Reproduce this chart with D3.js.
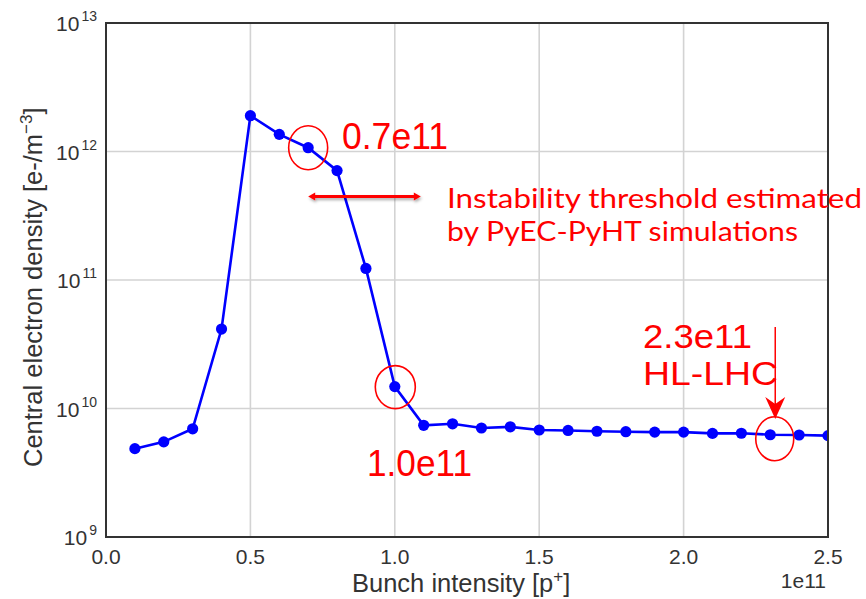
<!DOCTYPE html>
<html>
<head>
<meta charset="utf-8">
<script src="https://cdn.jsdelivr.net/npm/d3@7"></script>
<style>
html,body{margin:0;padding:0;background:#fff;}
svg{display:block;}
</style>
</head>
<body>
<svg id="chart" width="866" height="599"></svg>
<script>
// ---- data (bunch intensity in units of 1e11 p+) ----
const intensity = [0.1,0.2,0.3,0.4,0.5,0.6,0.7,0.8,0.9,1.0,1.1,1.2,1.3,1.4,1.5,1.6,1.7,1.8,1.9,2.0,2.1,2.2,2.3,2.4,2.5];
const density = [4.87e9,5.5e9,6.95e9,4.15e10,1.9e12,1.36e12,1.07e12,7.1e11,1.23e11,1.48e10,7.4e9,7.6e9,7.05e9,7.2e9,6.8e9,6.75e9,6.65e9,6.6e9,6.55e9,6.55e9,6.4e9,6.42e9,6.25e9,6.22e9,6.15e9];
const xTicks = [0.0,0.5,1.0,1.5,2.0,2.5];
const xTickLabels = ["0.0","0.5","1.0","1.5","2.0","2.5"];
const yTicks = [1e9,1e10,1e11,1e12,1e13];
const yTickExp = ["9","10","11","12","13"];
const circled = [0.7,1.0,2.3];
const circleLabels = ["0.7e11","1.0e11"];
const thresholdRange = [0.7,1.09];
const hlText = ["2.3e11","HL-LHC"];
const thresholdText = ["Instability threshold estimated","by PyEC-PyHT simulations"];

const svg = d3.select("#chart");
const L=106, R=828, T=23, B=537;
const x = d3.scaleLinear().domain([0,2.5]).range([L,R]);
const y = d3.scaleLog().domain([1e9,1e13]).range([B,T]);
const pts = intensity.map((v,i)=>({x:v,y:density[i]}));

// gridlines
svg.append("g").selectAll("line").data(xTicks.slice(1,-1)).join("line")
  .attr("x1",d=>x(d)).attr("x2",d=>x(d)).attr("y1",T).attr("y2",B)
  .attr("stroke","#d3d3d3").attr("stroke-width",1.6);
svg.append("g").selectAll("line").data(yTicks.slice(1,-1)).join("line")
  .attr("x1",L).attr("x2",R).attr("y1",d=>y(d)).attr("y2",d=>y(d))
  .attr("stroke","#d3d3d3").attr("stroke-width",1.6);

// clip
svg.append("clipPath").attr("id","clip").append("rect")
  .attr("x",L).attr("y",T).attr("width",R-L).attr("height",B-T);

const plot = svg.append("g").attr("clip-path","url(#clip)");
plot.append("path").datum(pts)
  .attr("d", d3.line().x(d=>x(d.x)).y(d=>y(d.y)))
  .attr("fill","none").attr("stroke","#0000ff").attr("stroke-width",2.6);
plot.selectAll("circle").data(pts).join("circle")
  .attr("cx",d=>x(d.x)).attr("cy",d=>y(d.y)).attr("r",5.6).attr("fill","#0000ff");

// frame
svg.append("rect").attr("x",L).attr("y",T).attr("width",R-L).attr("height",B-T)
  .attr("fill","none").attr("stroke","#333").attr("stroke-width",2);

// axis labels
const font = "'Liberation Sans', Arial, Helvetica, sans-serif";
svg.append("g").selectAll("text").data(xTicks).join("text")
  .attr("x",d=>x(d)).attr("y",564).attr("text-anchor","middle")
  .attr("font-family",font).attr("font-size",21).attr("fill","#333")
  .text((d,i)=>xTickLabels[i]);
const yt = svg.append("g").selectAll("text").data(yTicks).join("text")
  .attr("x",97).attr("y",d=>y(d)+8).attr("text-anchor","end")
  .attr("font-family",font).attr("font-size",21).attr("fill","#333");
yt.append("tspan").text("10");
yt.append("tspan").attr("dy",-10).attr("dx",2).attr("font-size",14).text((d,i)=>yTickExp[i]);

svg.append("text").attr("x",826).attr("y",588).attr("text-anchor","end")
  .attr("font-family",font).attr("font-size",21).attr("fill","#333").text("1e11");

const xl = svg.append("text").attr("x",352).attr("y",592)
  .attr("font-family",font).attr("font-size",25.5).attr("fill","#333");
xl.append("tspan").text("Bunch intensity [p");
xl.append("tspan").attr("dy",-10).attr("font-size",17).text("+");
xl.append("tspan").attr("dy",10).text("]");

const yl = svg.append("text").attr("transform","translate(42,467) rotate(-90)")
  .attr("font-family",font).attr("font-size",25.5).attr("fill","#333");
yl.append("tspan").text("Central electron density [e-/m");
yl.append("tspan").attr("dy",-10).attr("font-size",17).text("\u22123");
yl.append("tspan").attr("dy",10).text("]");

// annotations
const red = "#ff0000";
const offs = {0.7:[0,0,19.5,22],1.0:[0.5,0.5,20,21.5],2.3:[4.5,4,19,22]};
circled.forEach(c=>{
  const i = intensity.indexOf(c);
  const o = offs[c];
  svg.append("ellipse").attr("cx",x(c)+o[0]).attr("cy",y(density[i])+o[1])
    .attr("rx",o[2]).attr("ry",o[3]).attr("fill","none").attr("stroke",red).attr("stroke-width",1.6);
});

svg.append("text").attr("x",342).attr("y",149).attr("font-family",font).attr("font-size",37)
  .attr("fill",red).attr("textLength",106).attr("lengthAdjust","spacingAndGlyphs").text(circleLabels[0]);
svg.append("text").attr("x",367).attr("y",476).attr("font-family",font).attr("font-size",36)
  .attr("fill",red).attr("textLength",105).attr("lengthAdjust","spacingAndGlyphs").text(circleLabels[1]);

svg.append("text").attr("x",643).attr("y",348).attr("font-family",font).attr("font-size",33)
  .attr("fill",red).attr("textLength",109).attr("lengthAdjust","spacingAndGlyphs").text(hlText[0]);
svg.append("text").attr("x",643).attr("y",385).attr("font-family",font).attr("font-size",34)
  .attr("fill",red).attr("textLength",135).attr("lengthAdjust","spacingAndGlyphs").text(hlText[1]);

// HL-LHC arrow
const ax = x(2.3)+5;
svg.append("line").attr("x1",ax).attr("x2",ax).attr("y1",327).attr("y2",405)
  .attr("stroke",red).attr("stroke-width",1.5);
svg.append("path").attr("d",`M${ax-10},397 L${ax},419 L${ax+10},397 L${ax},404 Z`).attr("fill",red);

// threshold double arrow with shadow
const defs = svg.append("defs");
const f = defs.append("filter").attr("id","sh").attr("x","-20%").attr("y","-200%").attr("width","140%").attr("height","500%");
f.append("feDropShadow").attr("dx",1).attr("dy",2).attr("stdDeviation",1.5).attr("flood-color","#000").attr("flood-opacity",0.35);
const ay = 196.5, x1 = x(thresholdRange[0]), x2 = x(thresholdRange[1]);
const ga = svg.append("g").attr("filter","url(#sh)");
ga.append("line").attr("x1",x1+3).attr("x2",x2-3).attr("y1",ay).attr("y2",ay)
  .attr("stroke",red).attr("stroke-width",3);
ga.append("path").attr("d",`M${x1},${ay} L${x1+7},${ay-4} L${x1+7},${ay+4} Z`).attr("fill",red);
ga.append("path").attr("d",`M${x2},${ay} L${x2-7},${ay-4} L${x2-7},${ay+4} Z`).attr("fill",red);

const tfont = "Lato, 'Open Sans', sans-serif";
svg.append("text").attr("x",447).attr("y",208).attr("font-family",tfont).attr("font-size",27)
  .attr("fill",red).attr("textLength",415).attr("lengthAdjust","spacingAndGlyphs").text(thresholdText[0]);
svg.append("text").attr("x",447).attr("y",241).attr("font-family",tfont).attr("font-size",27)
  .attr("fill",red).attr("textLength",351).attr("lengthAdjust","spacingAndGlyphs").text(thresholdText[1]);
</script>
</body>
</html>
